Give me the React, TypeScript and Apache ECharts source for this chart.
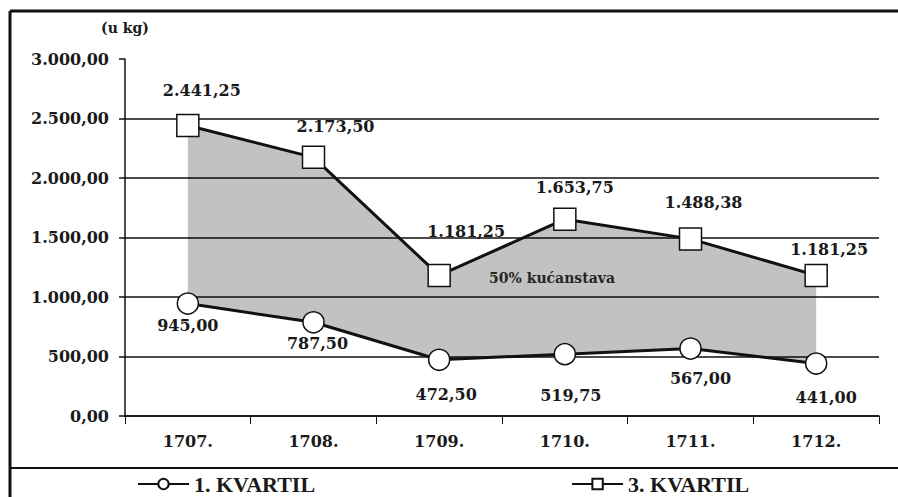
import React, { useEffect, useRef } from "react";
import * as echarts from "echarts";

const categories = ["1707.", "1708.", "1709.", "1710.", "1711.", "1712."];
const kvartil1 = [945.0, 787.5, 472.5, 519.75, 567.0, 441.0];
const kvartil3 = [2441.25, 2173.5, 1181.25, 1653.75, 1488.38, 1181.25];
const yTicks = [0, 500, 1000, 1500, 2000, 2500, 3000];

// label offsets (styling only)
const upperOffsets = [[14, -35], [22, -31], [27, -44], [10, -32], [13, -36], [13, -26]];
const lowerOffsets = [[0, 22], [4, 21], [7, 35], [6, 41], [10, 30], [10, 34]];

const NUMFONT = "DejaVu Serif";
const SERIF = "Liberation Serif";

function fmt(v: number): string {
  const fixed = v.toFixed(2);
  const [intPart, dec] = fixed.split(".");
  const withDots = intPart.replace(/\B(?=(\d{3})+(?!\d))/g, ".");
  return withDots + "," + dec;
}

export default function App() {
  const ref = useRef<HTMLDivElement>(null);
  useEffect(() => {
    if (!ref.current) return;
    const chart = echarts.init(ref.current, null, { renderer: "svg" });
    const diff = kvartil3.map((v, i) => +(v - kvartil1[i]).toFixed(2));
    const labelStyle = {
      show: true,
      position: "inside",
      fontFamily: NUMFONT,
      fontWeight: "bold",
      fontSize: 16,
      color: "#1a1a1a",
      formatter: (p: any) => fmt(p.value),
    };
    chart.setOption({
      animation: false,
      backgroundColor: "#fff",
      grid: { left: 125, right: 19, top: 59, bottom: 81 },
      legend: {
        left: 137,
        top: 473,
        padding: 0,
        itemGap: 256,
        itemWidth: 51,
        itemHeight: 13,
        data: ["1. KVARTIL", "3. KVARTIL"],
        textStyle: { fontFamily: SERIF, fontWeight: "bold", fontSize: 22, lineHeight: 20, color: "#1a1a1a" },
      },
      xAxis: {
        type: "category",
        data: categories,
        boundaryGap: true,
        axisLine: { lineStyle: { color: "#111", width: 1.5 } },
        axisTick: { show: true, length: 8, lineStyle: { color: "#111", width: 1 } },
        axisLabel: { margin: 17, fontFamily: NUMFONT, fontWeight: "bold", fontSize: 16, color: "#1a1a1a" },
      },
      yAxis: {
        type: "value",
        min: yTicks[0],
        max: yTicks[yTicks.length - 1],
        interval: 500,
        name: "(u kg)",
        nameLocation: "end",
        nameGap: 24,
        nameTextStyle: { fontFamily: NUMFONT, fontWeight: "bold", fontSize: 14, color: "#1a1a1a", align: "center" },
        axisLine: { show: true, lineStyle: { color: "#111", width: 1.5 } },
        axisTick: { show: true, length: 6, lineStyle: { color: "#111", width: 1.5 } },
        axisLabel: { margin: 16, fontFamily: NUMFONT, fontWeight: "bold", fontSize: 16, color: "#1a1a1a", formatter: (v: number) => fmt(v) },
        splitLine: {
          show: true,
          lineStyle: { color: ["#111", "#111", "#111", "#111", "#111", "#111", "rgba(0,0,0,0)"], width: 1.5 },
        },
      },
      graphic: [
        { type: "line", shape: { x1: 10, y1: 11, x2: 898, y2: 11 }, style: { stroke: "#111", lineWidth: 3 } },
        { type: "line", shape: { x1: 10, y1: 11, x2: 10, y2: 497 }, style: { stroke: "#111", lineWidth: 3 } },
        { type: "line", shape: { x1: 10, y1: 468, x2: 898, y2: 468 }, style: { stroke: "#111", lineWidth: 2 } },
        {
          type: "text",
          x: 552,
          y: 278,
          z: 10,
          style: {
            text: "50% kućanstava",
            fontFamily: NUMFONT,
            fontWeight: "bold",
            fontSize: 14,
            fill: "#262626",
            align: "center",
            verticalAlign: "middle",
          },
        },
      ],
      series: [
        {
          name: "base",
          type: "line",
          stack: "band",
          data: kvartil1,
          symbol: "none",
          lineStyle: { opacity: 0 },
          silent: true,
        },
        {
          name: "band",
          type: "line",
          stack: "band",
          data: diff,
          symbol: "none",
          lineStyle: { opacity: 0 },
          areaStyle: { color: "rgba(0,0,0,0.24)", opacity: 1 },
          silent: true,
        },
        {
          name: "1. KVARTIL",
          type: "line",
          z: 5,
          data: kvartil1.map((v, i) => ({ value: v, label: { offset: lowerOffsets[i] } })),
          symbol: "circle",
          symbolSize: 21,
          itemStyle: { color: "#fff", borderColor: "#111", borderWidth: 1.5 },
          lineStyle: { color: "#111", width: 3 },
          label: labelStyle,
        },
        {
          name: "3. KVARTIL",
          type: "line",
          z: 5,
          data: kvartil3.map((v, i) => ({ value: v, label: { offset: upperOffsets[i] } })),
          symbol: "rect",
          symbolSize: 22,
          itemStyle: { color: "#fff", borderColor: "#111", borderWidth: 1.5 },
          lineStyle: { color: "#111", width: 3 },
          label: labelStyle,
        },
      ],
    });
    return () => chart.dispose();
  }, []);
  return (
    <div
      ref={ref}
      style={{ position: "absolute", left: 0, top: 0, width: 898, height: 497 }}
    />
  );
}
